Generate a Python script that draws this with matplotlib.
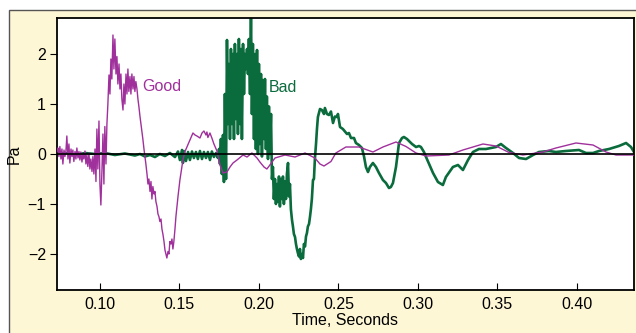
import numpy as np
import matplotlib
matplotlib.use("Agg")
import matplotlib.pyplot as plt
from matplotlib.patches import Rectangle

plt.rcParams['font.family'] = ['Liberation Sans', 'DejaVu Sans']

# time in milliseconds, pressure in Pa
good_ms = [73.0, 73.6, 74.2, 74.8, 75.5, 76.1, 76.7, 77.4, 78.0, 78.6, 79.2, 79.9, 80.5, 81.1,
           81.8, 82.4, 83.0, 83.6, 84.3, 84.9, 85.5, 86.2, 86.8, 87.4, 88.0, 88.7, 89.3, 89.9,
           90.6, 91.2, 91.8, 92.4, 93.1, 93.7, 94.3, 95.0, 95.6, 96.2, 96.9, 97.5, 98.1, 98.7,
           99.4, 100.0, 100.6, 101.3, 101.9, 102.5, 103.1, 103.8, 104.4, 105.0, 105.7, 106.3,
           106.9, 107.5, 108.2, 108.8, 109.4, 110.1, 110.7, 111.3, 112.0, 112.6, 113.2, 113.8,
           114.5, 115.1, 115.7, 116.4, 117.0, 117.6, 118.2, 118.9, 119.5, 120.1, 120.8, 121.4,
           122.0, 122.6, 123.3, 123.9, 124.5, 125.2, 125.8, 126.4, 127.0, 127.7, 128.3, 128.9,
           129.6, 130.2, 130.8, 131.5, 132.1, 132.7, 133.3, 134.0, 134.6, 135.2, 135.9, 136.5,
           137.1, 137.7, 138.4, 139.0, 139.6, 140.3, 140.9, 141.5, 142.1, 142.8, 143.4, 144.0,
           144.7, 145.3, 145.9, 146.5, 147.2, 147.8, 148.4, 149.1, 150.3, 151.6, 152.2, 153.5,
           154.7, 156.6, 158.5, 159.8, 161.0, 162.9, 164.2, 165.4, 166.7, 167.3, 167.9, 169.2,
           170.4, 171.7, 173.6, 175.5, 177.4, 179.9, 181.8, 183.7, 186.2, 190.0, 192.5, 195.6,
           198.8, 200.6, 203.2, 205.0, 206.9, 210.1, 216.4, 222.7, 229.0, 235.2, 238.4, 240.9,
           245.3, 248.4, 254.7, 262.9, 271.7, 278.0, 286.2, 292.5, 298.8, 305.1, 319.5, 328.3,
           340.9, 349.1, 357.3, 366.1, 378.6, 386.8, 399.4, 410.1, 418.3, 424.6, 435.9]
good_pa = [0.05, 0.12, -0.05, 0.15, -0.10, 0.10, -0.20, 0.08, -0.05, 0.05, 0.36, -0.10, 0.20, -0.18,
           0.10, -0.05, 0.08, -0.15, 0.05, -0.10, 0.12, -0.08, 0.05, -0.12, 0.04, -0.16, 0.00, -0.10,
           0.06, -0.20, -0.02, -0.25, 0.02, -0.30, -0.10, -0.35, -0.05, -0.40, 0.10, -0.55, 0.50, -0.30,
           0.66, -0.60, -1.02, -0.30, 0.40, -0.60, 0.55, -0.20, 0.60, 1.00, 1.58, 1.20,
           1.90, 1.50, 2.38, 1.70, 2.30, 1.60, 1.95, 1.40, 1.80, 1.30, 1.60, 1.10,
           0.88, 1.40, 1.00, 1.60, 1.20, 1.70, 1.25, 1.55, 1.20, 1.60, 1.30, 1.55,
           1.25, 1.45, 1.30, 1.10, 0.95, 0.75, 0.60, 0.45, 0.30, 0.10, -0.05, -0.20,
           -0.40, -0.60, -0.50, -0.75, -0.55, -0.90, -0.65, -0.80, -0.75, -0.95, -1.05, -1.20,
           -1.25, -1.35, -1.30, -1.50, -1.60, -1.75, -1.92, -2.00, -2.08, -1.95, -2.00, -1.75,
           -1.80, -1.70, -1.90, -1.75, -1.50, -1.25, -1.06, -0.85, -0.52, -0.25, -0.12, 0.05,
           0.14, 0.28, 0.42, 0.38, 0.36, 0.32, 0.42, 0.46, 0.38, 0.44, 0.33, 0.42,
           0.32, 0.20, 0.06, -0.22, -0.38, -0.36, -0.26, -0.18, -0.12, -0.02, -0.06, 0.02,
           -0.08, -0.16, -0.26, -0.30, -0.22, -0.08, -0.02, -0.06, 0.02, -0.08, -0.20, -0.24,
           -0.15, 0.02, 0.14, 0.14, 0.04, 0.14, 0.24, 0.15, 0.02, -0.04, -0.02, 0.08,
           0.20, 0.16, 0.03, -0.02, 0.04, 0.12, 0.22, 0.18, 0.04, -0.02, -0.02]

bad_ms = [73.0, 78.0, 84.3, 90.6, 96.9, 103.1, 109.4, 115.7, 122.0, 125.2, 128.3, 131.5, 134.6,
          137.7, 140.9, 144.0, 147.2, 149.1, 150.3, 151.6, 152.2, 152.8, 154.1, 155.4, 156.6,
          157.9, 159.1, 160.4, 161.6, 162.9, 164.2, 165.4, 166.7, 167.9, 169.2, 170.4, 171.7,
          173.0, 174.2, 174.9, 175.5, 176.1, 176.7, 177.4, 178.0, 178.6, 179.3, 179.9, 180.5,
          181.1, 181.8, 182.4, 183.0, 183.7, 184.3, 184.9, 185.5, 186.2, 186.8, 187.4, 188.1,
          188.7, 189.3, 190.0, 190.6, 191.2, 191.8, 192.5, 193.1, 193.7, 194.4, 195.0, 195.6,
          196.2, 196.9, 197.5, 198.1, 198.8, 199.4, 200.0, 200.6, 201.3, 201.9, 202.5, 203.2,
          203.8, 204.4, 205.0, 205.7, 206.3, 206.9, 207.6, 208.2, 208.8, 209.4, 210.1, 210.7,
          211.3, 212.0, 212.6, 213.2, 213.8, 214.5, 215.1, 215.7, 216.4, 217.0, 217.6, 218.3,
          218.9, 219.5, 220.1, 220.8, 221.4, 222.0, 222.7, 223.3, 223.9, 224.5, 225.2, 225.8,
          226.4, 227.1, 227.7, 228.3, 229.0, 229.6, 230.2, 230.8, 231.5, 232.1, 232.7, 233.3,
          234.0, 234.6, 235.2, 235.9, 236.5, 237.1, 238.4, 239.6, 240.9, 241.5, 242.8, 244.0,
          245.3, 246.6, 247.8, 249.1, 249.7, 251.0, 252.8, 254.1, 255.4, 256.6, 257.9, 259.8,
          261.0, 262.9, 264.8, 266.1, 267.3, 268.6, 269.8, 271.7, 273.6, 275.5, 278.0, 279.9,
          281.8, 283.0, 284.3, 286.2, 288.1, 290.0, 291.2, 293.1, 294.4, 296.3, 298.8, 300.7,
          301.9, 303.8, 305.1, 307.6, 309.5, 312.6, 315.7, 317.6, 320.2, 322.0, 325.2, 328.3,
          331.5, 334.6, 338.4, 342.8, 349.1, 352.2, 355.4, 359.8, 363.6, 368.0, 372.4, 376.1,
          382.4, 386.8, 393.1, 401.3, 405.7, 410.1, 413.9, 420.2, 426.4, 430.9, 434.0, 435.9]
bad_pa = [0.00, 0.02, -0.02, 0.02, 0.00, 0.02, -0.02, 0.01, -0.03, 0.00, -0.05, -0.02, -0.06,
          0.00, -0.04, 0.02, -0.06, 0.05, -0.12, 0.08, -0.18, 0.06, -0.14, 0.04, -0.12,
          0.05, -0.08, 0.04, -0.10, 0.06, -0.10, 0.04, -0.08, 0.04, -0.12, 0.05, -0.06,
          0.02, -0.08, 0.10, -0.20, 0.30, -0.40, 0.38, -0.56, 1.20, -0.50, 2.28, 0.60,
          1.80, 0.30, 2.10, 0.60, 2.00, 0.30, 2.20, 0.70, 2.00, 0.40, 2.30, 0.60,
          2.10, 0.30, 2.20, 1.20, 2.00, 1.70, 2.10, 1.60, 2.30, 1.20, 2.90, 0.80,
          2.20, 0.30, 2.00, 0.10, 2.08, 0.00, 1.80, 0.20, 1.60, -0.05, 1.48, 0.30,
          1.50, 0.10, 1.15, -0.10, 0.95, 0.00, 0.80, -0.50, -0.26, -0.90, -0.50, -1.00,
          -0.60, -0.95, -0.45, -1.05, -0.50, -0.90, -0.45, -1.00, -0.55, -0.90, -0.40, -0.18,
          -0.85, -0.60, -1.10, -1.32, -1.45, -1.60, -1.66, -1.80, -1.90, -1.98, -2.05, -1.90,
          -2.10, -2.00, -2.08, -1.80, -1.85, -1.65, -1.58, -1.45, -1.40, -1.26, -1.10, -0.90,
          -0.52, -0.50, -0.10, 0.20, 0.50, 0.74, 0.90, 0.88, 0.80, 0.92, 0.80, 0.78,
          0.85, 0.62, 0.75, 0.74, 0.80, 0.54, 0.50, 0.45, 0.40, 0.42, 0.32, 0.32,
          0.22, 0.18, 0.12, -0.05, -0.26, -0.36, -0.26, -0.18, -0.26, -0.38, -0.52, -0.58,
          -0.68, -0.66, -0.58, -0.26, 0.22, 0.32, 0.34, 0.30, 0.26, 0.20, 0.14, 0.16,
          0.14, 0.04, -0.06, -0.24, -0.38, -0.56, -0.62, -0.46, -0.34, -0.26, -0.22, -0.32,
          -0.12, 0.04, 0.10, 0.10, 0.14, 0.20, 0.12, 0.02, -0.08, -0.10, -0.02, 0.04,
          0.06, 0.04, 0.06, 0.08, 0.02, 0.02, 0.06, 0.10, 0.16, 0.22, 0.14, 0.04]

x_ticks = [0.10, 0.15, 0.20, 0.25, 0.30, 0.35, 0.40]
y_ticks = [-2, -1, 0, 1, 2]

purple = '#a0309c'
green = '#0a6b3c'

fig = plt.figure(figsize=(6.36, 3.33), dpi=100)
fig.patch.set_facecolor('white')
# yellow panel behind the plot
panel = Rectangle((9 / 636, -0.05), 1.0, 0.05 + (333 - 10) / 333,
                  transform=fig.transFigure, facecolor='#fdf7d6',
                  edgecolor='#555555', linewidth=1.0, zorder=-5)
fig.add_artist(panel)

ax = fig.add_axes([57 / 636, 43 / 333, 577 / 636, 272 / 333])
ax.set_zorder(2)
ax.set_facecolor('white')

ax.plot(np.array(good_ms) / 1000, good_pa, color=purple, lw=1.0, zorder=3)
ax.plot(np.array(bad_ms) / 1000, bad_pa, color=green, lw=1.9, zorder=2)
ax.axhline(0, color='black', lw=1.2, zorder=4)

ax.text(0.1265, 1.35, 'Good', color=purple, fontsize=11.5, va='center')
ax.text(0.2060, 1.32, 'Bad', color=green, fontsize=11.5, va='center')

ax.set_xlim(0.0730, 0.4359)
ax.set_ylim(-2.72, 2.72)
ax.set_xticks(x_ticks)
ax.set_xticklabels([f'{v:.2f}' for v in x_ticks])
ax.set_yticks(y_ticks)
ax.set_yticklabels([str(v).replace('-', '\u2212') for v in y_ticks])
ax.tick_params(axis='x', direction='in', length=5, labelsize=11.5, pad=5)
ax.tick_params(axis='y', direction='out', length=5, labelsize=11.5, pad=3)
for s in ax.spines.values():
    s.set_linewidth(1.3)

ax.set_xlabel('Time, Seconds', fontsize=11.5, labelpad=1)
ax.set_ylabel('Pa', fontsize=11.5, labelpad=4)

fig.savefig('out.png', dpi=100)
